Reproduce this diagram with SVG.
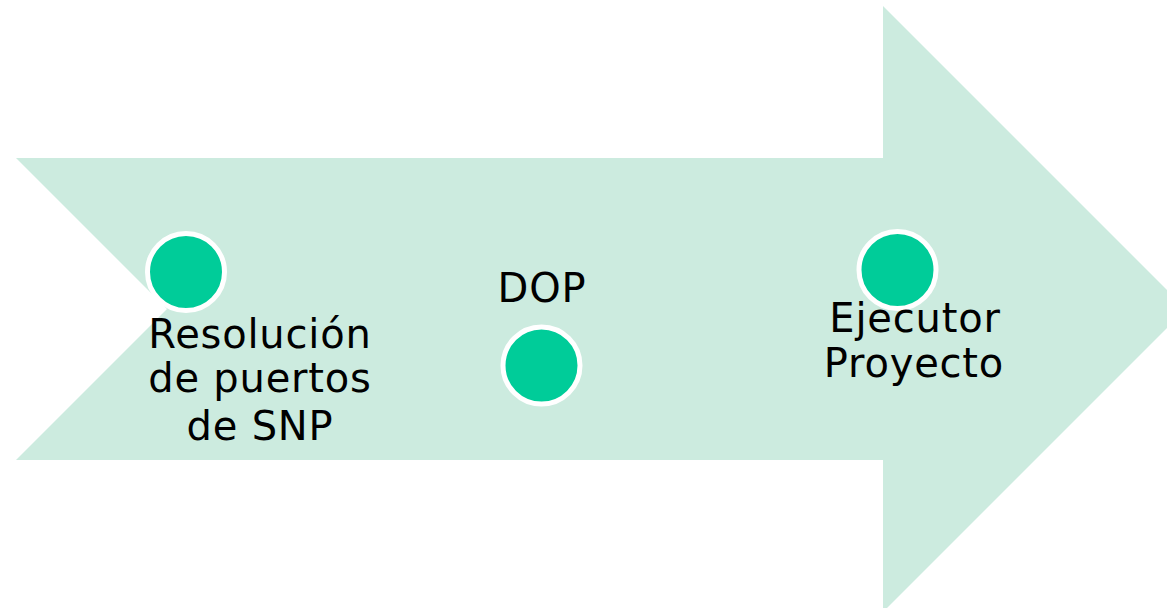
<svg xmlns="http://www.w3.org/2000/svg" width="1167" height="608" viewBox="0 0 1167 608">
<style>
.lbl{font-family:"DejaVu Sans","Liberation Sans",sans-serif;font-size:40px;fill:#000;text-anchor:middle;letter-spacing:0.8px}
.dot{fill:#00CC99;stroke:#FFFFFF;stroke-width:5}
</style>
<rect width="1167" height="608" fill="#FFFFFF"/>
<g id="arrow">
<polygon points="16,158 883,158 883,6 1186,309 883,612 883,460 16,460 167,309" fill="#CCEBDF"/>
</g>
<g id="connectors"></g>
<g id="node1">
<circle class="dot" cx="186" cy="272" r="38.5"/>
<text class="lbl" x="260" y="348">Resolución</text>
<text class="lbl" x="260" y="392">de puertos</text>
<text class="lbl" x="260" y="440">de SNP</text>
</g>
<g id="node2">
<text class="lbl" x="542" y="302">DOP</text>
<circle class="dot" cx="541.5" cy="365.5" r="38.5"/>
</g>
<g id="node3">
<circle class="dot" cx="897.5" cy="270" r="38.5"/>
<text class="lbl" x="915" y="332">Ejecutor</text>
<text class="lbl" x="914" y="377">Proyecto</text>
</g>
</svg>
